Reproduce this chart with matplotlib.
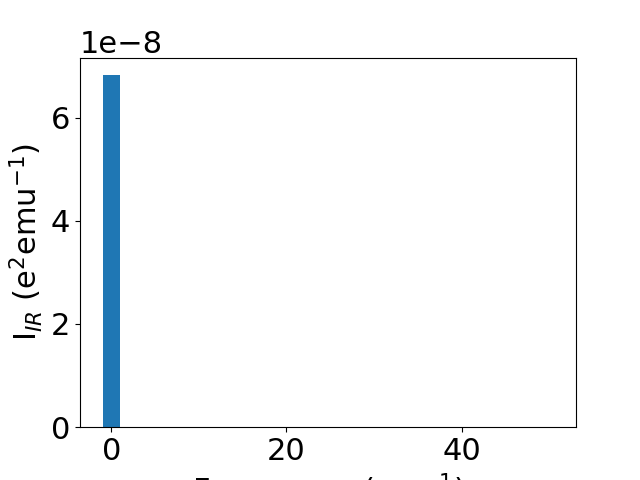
import matplotlib
matplotlib.use("Agg")
import matplotlib.pyplot as plt

# IR intensity spectrum (only the zero-frequency mode is non-zero)
freqs = [0.0]
intensities = [6.82e-8]
bar_width = 2.0
x_range = (-3.57, 53.07)

fig, ax = plt.subplots(figsize=(6.4, 4.8), dpi=100)
ax.bar(freqs, intensities, width=bar_width, color="#1f77b4")
ax.set_xlim(*x_range)
ax.set_xlabel("Frequency (cm$^{-1}$)", fontsize=22)
ax.set_ylabel("I$_{IR}$ (e$^2$emu$^{-1}$)", fontsize=22)
ax.tick_params(labelsize=22)
ax.yaxis.get_offset_text().set_fontsize(22)

plt.savefig("out.png", dpi=100)
